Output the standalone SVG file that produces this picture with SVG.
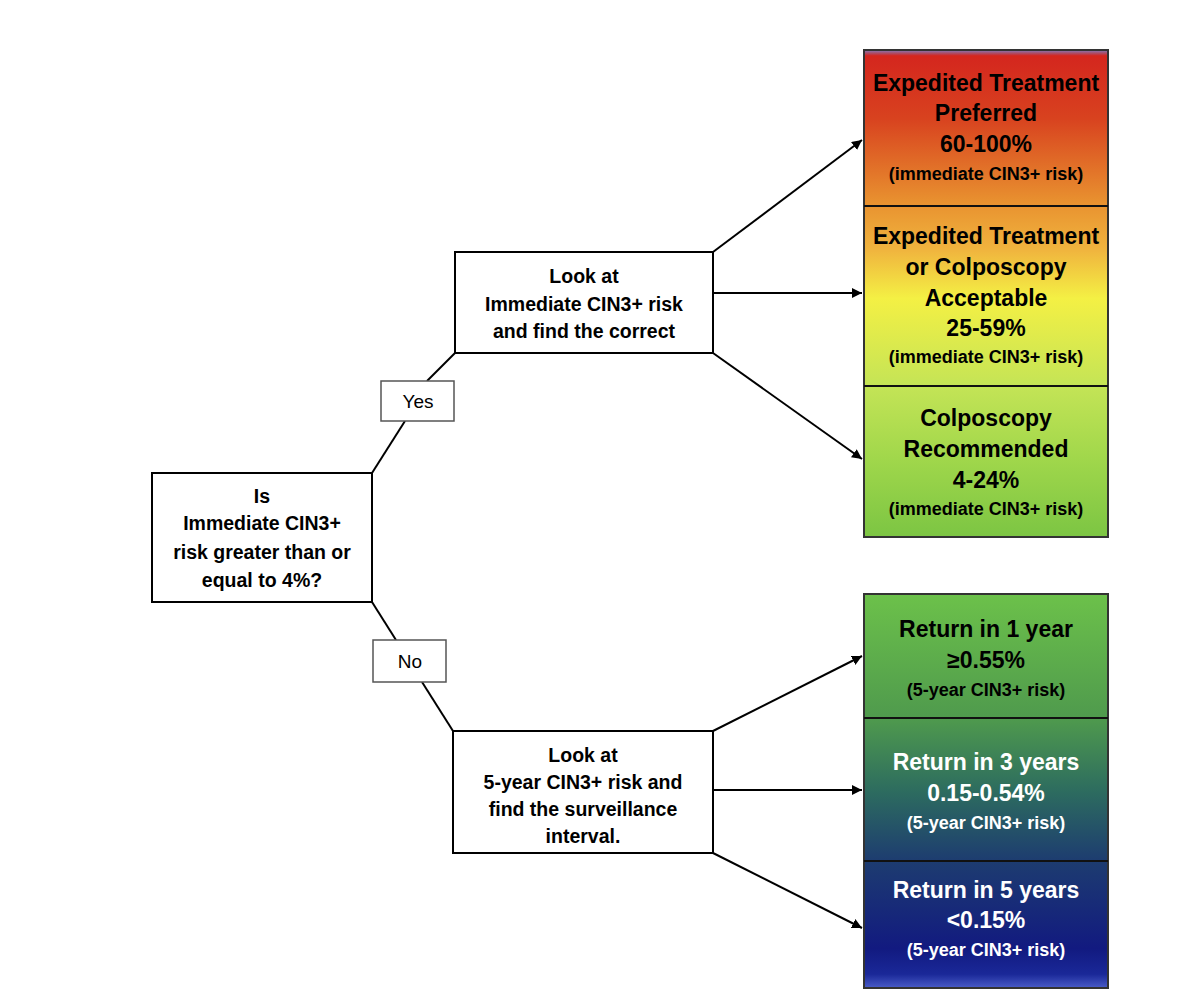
<svg xmlns="http://www.w3.org/2000/svg" width="1200" height="1003" viewBox="0 0 1200 1003">
<defs>
<marker id="ah" viewBox="0 0 10 10" refX="10" refY="5" markerWidth="10" markerHeight="10" markerUnits="userSpaceOnUse" orient="auto"><path d="M0,0 L10,5 L0,10 Z" fill="#000"/></marker>
<linearGradient id="gTop" gradientUnits="userSpaceOnUse" x1="0" y1="50" x2="0" y2="537">
<stop offset="0" stop-color="#7c7cc0"/>
<stop offset="0.012" stop-color="#d4261e"/>
<stop offset="0.14" stop-color="#d8421f"/>
<stop offset="0.31" stop-color="#e8902f"/>
<stop offset="0.41" stop-color="#f0b43e"/>
<stop offset="0.51" stop-color="#f4f044"/>
<stop offset="0.69" stop-color="#c4e456"/>
<stop offset="0.84" stop-color="#a0d74b"/>
<stop offset="1" stop-color="#7cc543"/>
</linearGradient>
<linearGradient id="gBot" gradientUnits="userSpaceOnUse" x1="0" y1="594" x2="0" y2="988">
<stop offset="0" stop-color="#6cc14a"/>
<stop offset="0.315" stop-color="#4f9a4d"/>
<stop offset="0.5" stop-color="#2d6c5f"/>
<stop offset="0.678" stop-color="#1d3c70"/>
<stop offset="0.9" stop-color="#121a80"/>
<stop offset="0.965" stop-color="#1a2898"/>
<stop offset="1" stop-color="#4a5cc8"/>
</linearGradient>
</defs>
<style>
.box{fill:#fff;stroke:#000;stroke-width:2}
.lbl{fill:#fff;stroke:#555;stroke-width:1.5}
.t{font-family:"Liberation Sans",Arial,sans-serif;font-weight:bold;font-size:19.5px;text-anchor:middle;fill:#000}
.r{font-family:"Liberation Sans",Arial,sans-serif;font-size:19px;text-anchor:middle;fill:#000}
.big{font-family:"Liberation Sans",Arial,sans-serif;font-weight:bold;font-size:23px;text-anchor:middle}
.sm{font-family:"Liberation Sans",Arial,sans-serif;font-weight:bold;font-size:18px;text-anchor:middle}
.k{fill:#000}
.w{fill:#fff}
.c{stroke:#000;stroke-width:2;fill:none}
.sep{stroke:#111;stroke-width:2}
</style>
<rect width="1200" height="1003" fill="#fff"/>
<g id="connectors">
<line class="c" x1="372" y1="473" x2="405" y2="421"/>
<line class="c" x1="427" y1="381" x2="455" y2="353"/>
<line class="c" x1="372" y1="602" x2="396" y2="640"/>
<line class="c" x1="422" y1="682" x2="453" y2="731"/>
<line class="c" x1="713" y1="252" x2="862" y2="140" marker-end="url(#ah)"/>
<line class="c" x1="713" y1="293" x2="862" y2="293" marker-end="url(#ah)"/>
<line class="c" x1="713" y1="353" x2="862" y2="459" marker-end="url(#ah)"/>
<line class="c" x1="713" y1="731" x2="862" y2="656" marker-end="url(#ah)"/>
<line class="c" x1="713" y1="790" x2="862" y2="790" marker-end="url(#ah)"/>
<line class="c" x1="713" y1="853" x2="862" y2="928" marker-end="url(#ah)"/>
</g>
<g id="question">
<rect class="box" x="152" y="473" width="220" height="129"/>
<text class="t" x="262" y="503">Is</text>
<text class="t" x="262" y="530">Immediate CIN3+</text>
<text class="t" x="262" y="559">risk greater than or</text>
<text class="t" x="262" y="587">equal to 4%?</text>
</g>
<g id="yes">
<rect class="lbl" x="381" y="381" width="73" height="40"/>
<text class="r" x="418" y="408">Yes</text>
</g>
<g id="no">
<rect class="lbl" x="373" y="640" width="73" height="42"/>
<text class="r" x="410" y="668">No</text>
</g>
<g id="immediate">
<rect class="box" x="455" y="252" width="258" height="101"/>
<text class="t" x="584" y="283">Look at</text>
<text class="t" x="584" y="311">Immediate CIN3+ risk</text>
<text class="t" x="584" y="338">and find the correct</text>
</g>
<g id="fiveyear">
<rect class="box" x="453" y="731" width="260" height="122"/>
<text class="t" x="583" y="762">Look at</text>
<text class="t" x="583" y="789">5-year CIN3+ risk and</text>
<text class="t" x="583" y="816">find the surveillance</text>
<text class="t" x="583" y="843">interval.</text>
</g>
<g id="topstack">
<rect x="864" y="50" width="244" height="487" fill="url(#gTop)" stroke="#333" stroke-width="2"/>
<line class="sep" x1="864" y1="206" x2="1108" y2="206"/>
<line class="sep" x1="864" y1="386" x2="1108" y2="386"/>
</g>
<g id="expedited">
<text class="big k" x="986" y="91">Expedited Treatment</text>
<text class="big k" x="986" y="121">Preferred</text>
<text class="big k" x="986" y="152">60-100%</text>
<text class="sm k" x="986" y="180">(immediate CIN3+ risk)</text>
</g>
<g id="acceptable">
<text class="big k" x="986" y="244">Expedited Treatment</text>
<text class="big k" x="986" y="275">or Colposcopy</text>
<text class="big k" x="986" y="306">Acceptable</text>
<text class="big k" x="986" y="336">25-59%</text>
<text class="sm k" x="986" y="363">(immediate CIN3+ risk)</text>
</g>
<g id="colposcopy">
<text class="big k" x="986" y="426">Colposcopy</text>
<text class="big k" x="986" y="457">Recommended</text>
<text class="big k" x="986" y="488">4-24%</text>
<text class="sm k" x="986" y="515">(immediate CIN3+ risk)</text>
</g>
<g id="bottomstack">
<rect x="864" y="594" width="244" height="394" fill="url(#gBot)" stroke="#333" stroke-width="2"/>
<line class="sep" x1="864" y1="718" x2="1108" y2="718"/>
<line class="sep" x1="864" y1="861" x2="1108" y2="861"/>
</g>
<g id="oneyear">
<text class="big k" x="986" y="637">Return in 1 year</text>
<text class="big k" x="986" y="668">≥0.55%</text>
<text class="sm k" x="986" y="696">(5-year CIN3+ risk)</text>
</g>
<g id="threeyears">
<text class="big w" x="986" y="770">Return in 3 years</text>
<text class="big w" x="986" y="801">0.15-0.54%</text>
<text class="sm w" x="986" y="829">(5-year CIN3+ risk)</text>
</g>
<g id="fiveyears">
<text class="big w" x="986" y="898">Return in 5 years</text>
<text class="big w" x="986" y="928">&lt;0.15%</text>
<text class="sm w" x="986" y="956">(5-year CIN3+ risk)</text>
</g>
</svg>
